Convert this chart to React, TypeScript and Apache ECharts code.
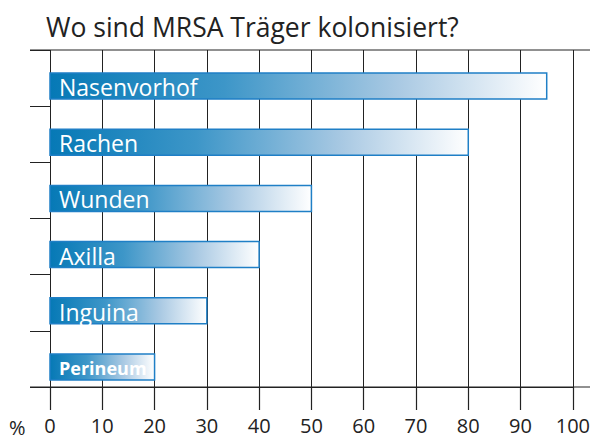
import React, { useEffect, useRef } from "react";
import * as echarts from "echarts";

const title = "Wo sind MRSA Träger kolonisiert?";
const categories = ["Nasenvorhof", "Rachen", "Wunden", "Axilla", "Inguina", "Perineum"];
const values = [95, 80, 50, 40, 30, 20];
const boldLabels = [false, false, false, false, false, true];
const xTicks = [0, 10, 20, 30, 40, 50, 60, 70, 80, 90, 100];
const unitLabel = "%";

const FONT = "'Open Sans', 'Noto Sans', sans-serif";

export default function App() {
  const ref = useRef<HTMLDivElement>(null);
  useEffect(() => {
    if (!ref.current) return;
    const chart = echarts.init(ref.current, undefined, { renderer: "svg" });
    const option: any = {
      animation: false,
      backgroundColor: "#ffffff",
      grid: { left: 50, right: 18, top: 50, bottom: 52, containLabel: false },
      xAxis: {
        type: "value",
        position: "bottom",
        min: xTicks[0],
        max: xTicks[xTicks.length - 1],
        interval: 10,
        axisLine: { show: true, onZero: false, lineStyle: { color: "#222", width: 1 } },
        axisTick: { show: true, inside: false, length: 23, lineStyle: { color: "#222", width: 1.2 } },
        axisLabel: { margin: 30, fontSize: 20, lineHeight: 16, color: "#222", fontFamily: FONT },
        splitLine: { show: true, lineStyle: { color: "#222", width: 1 } },
      },
      yAxis: {
        type: "category",
        data: categories,
        inverse: true,
        axisLine: { show: false },
        axisTick: { show: true, length: 20, lineStyle: { color: "#222", width: 1 } },
        axisLabel: { show: false },
        splitLine: { show: false },
      },
      graphic: [
        { type: "text", left: 46, top: 13, style: { text: title, fill: "#222", font: `26.5px ${FONT}` } },
        { type: "text", left: 9, top: 417, style: { text: unitLabel, fill: "#222", font: `20px ${FONT}`, lineHeight: 18 } },
        { type: "line", shape: { x1: 30, y1: 50, x2: 590, y2: 50 }, style: { stroke: "#222", lineWidth: 1 } },
        { type: "line", shape: { x1: 30, y1: 387, x2: 590, y2: 387 }, style: { stroke: "#222", lineWidth: 1 } },
      ],
      series: [
        {
          type: "custom",
          data: values.map((v, i) => [v, i]),
          encode: { x: 0, y: 1 },
          renderItem: (params: any, api: any) => {
            const v = api.value(0);
            const idx = api.value(1);
            const start = api.coord([0, idx]);
            const end = api.coord([v, idx]);
            const h = 26;
            const y = start[1] - h / 2 + 8;
            const bold = boldLabels[idx];
            return {
              type: "group",
              children: [
                {
                  type: "rect",
                  shape: { x: start[0], y, width: end[0] - start[0], height: h },
                  style: {
                    fill: new echarts.graphic.LinearGradient(0, 0, 1, 0, [
                      { offset: 0, color: "#0679b6" },
                      { offset: 0.35, color: "#3d96c8" },
                      { offset: 0.7, color: "#a9c9e3" },
                      { offset: 1, color: "#ffffff" },
                    ]),
                    stroke: "#1f7fc6",
                    lineWidth: 1.5,
                  },
                },
                {
                  type: "text",
                  style: {
                    text: categories[idx],
                    x: start[0] + 9,
                    y: y + h / 2 + 1,
                    verticalAlign: "middle",
                    fill: "#ffffff",
                    font: bold ? `bold 18px ${FONT}` : `23px ${FONT}`,
                  },
                },
              ],
            };
          },
        },
      ],
    };
    chart.setOption(option);
    return () => chart.dispose();
  }, []);
  return <div ref={ref} style={{ position: "fixed", left: 0, top: 0, width: 593, height: 439 }} />;
}
